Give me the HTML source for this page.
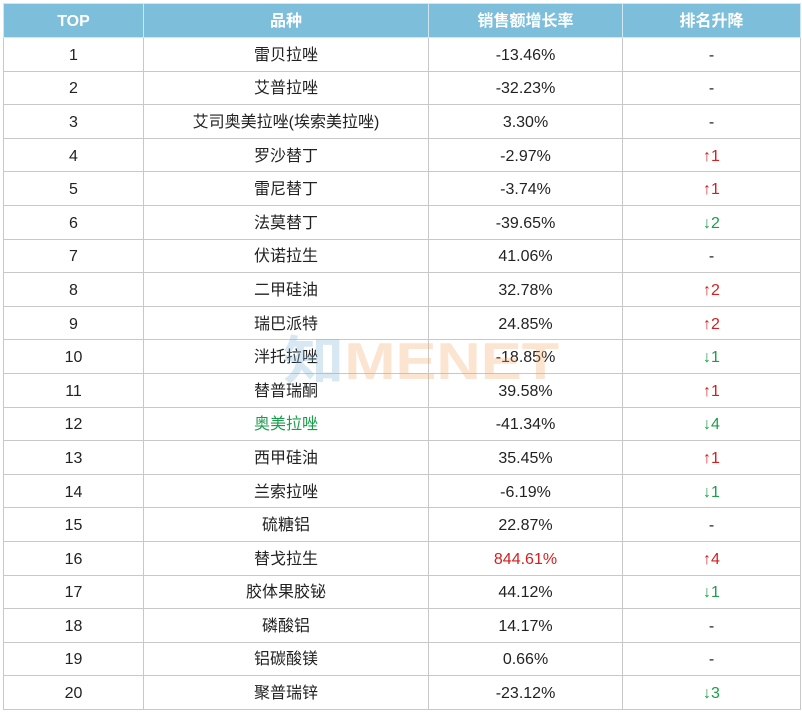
<!DOCTYPE html><html><head><meta charset="utf-8"><style>
body{margin:0;width:802px;height:713px;background:#fff;overflow:hidden;position:relative}
table{position:absolute;left:3px;top:3px;border-collapse:collapse;font-family:"Liberation Sans","Noto Sans CJK SC",sans-serif;font-size:16px;color:#222;table-layout:fixed}
td,th{border:1px solid #c8c8c8;text-align:center;padding:3px 0 0 0;height:29.6px;line-height:20px;vertical-align:middle}
th{background:#7dbedb;color:#fff;font-weight:bold;height:30px;border-color:#d0e6f0}
.r{color:#d21f1f}.g{color:#1a9e4a}
.wm{position:absolute;left:283px;top:331px;font-family:"Liberation Sans",sans-serif;font-weight:bold;font-size:52px;line-height:52px;opacity:.3;pointer-events:none;transform:scaleX(1.18);transform-origin:left top;white-space:nowrap}
</style></head><body>
<table>
<colgroup><col style="width:140px"><col style="width:285px"><col style="width:194px"><col style="width:178px"></colgroup>
<tr><th>TOP</th><th>品种</th><th>销售额增长率</th><th>排名升降</th></tr>
<tr><td>1</td><td>雷贝拉唑</td><td>-13.46%</td><td>-</td></tr>
<tr><td>2</td><td>艾普拉唑</td><td>-32.23%</td><td>-</td></tr>
<tr><td>3</td><td>艾司奥美拉唑(埃索美拉唑)</td><td>3.30%</td><td>-</td></tr>
<tr><td>4</td><td>罗沙替丁</td><td>-2.97%</td><td class="r">↑1</td></tr>
<tr><td>5</td><td>雷尼替丁</td><td>-3.74%</td><td class="r">↑1</td></tr>
<tr><td>6</td><td>法莫替丁</td><td>-39.65%</td><td class="g">↓2</td></tr>
<tr><td>7</td><td>伏诺拉生</td><td>41.06%</td><td>-</td></tr>
<tr><td>8</td><td>二甲硅油</td><td>32.78%</td><td class="r">↑2</td></tr>
<tr><td>9</td><td>瑞巴派特</td><td>24.85%</td><td class="r">↑2</td></tr>
<tr><td>10</td><td>泮托拉唑</td><td>-18.85%</td><td class="g">↓1</td></tr>
<tr><td>11</td><td>替普瑞酮</td><td>39.58%</td><td class="r">↑1</td></tr>
<tr><td>12</td><td class="g">奥美拉唑</td><td>-41.34%</td><td class="g">↓4</td></tr>
<tr><td>13</td><td>西甲硅油</td><td>35.45%</td><td class="r">↑1</td></tr>
<tr><td>14</td><td>兰索拉唑</td><td>-6.19%</td><td class="g">↓1</td></tr>
<tr><td>15</td><td>硫糖铝</td><td>22.87%</td><td>-</td></tr>
<tr><td>16</td><td>替戈拉生</td><td class="r">844.61%</td><td class="r">↑4</td></tr>
<tr><td>17</td><td>胶体果胶铋</td><td>44.12%</td><td class="g">↓1</td></tr>
<tr><td>18</td><td>磷酸铝</td><td>14.17%</td><td>-</td></tr>
<tr><td>19</td><td>铝碳酸镁</td><td>0.66%</td><td>-</td></tr>
<tr><td>20</td><td>聚普瑞锌</td><td>-23.12%</td><td class="g">↓3</td></tr>
</table>
<div class="wm"><span style="color:#7fb6d8;font-family:'Noto Sans CJK SC',sans-serif">知</span><span style="color:#f2a765">MENET</span></div>
</body></html>
